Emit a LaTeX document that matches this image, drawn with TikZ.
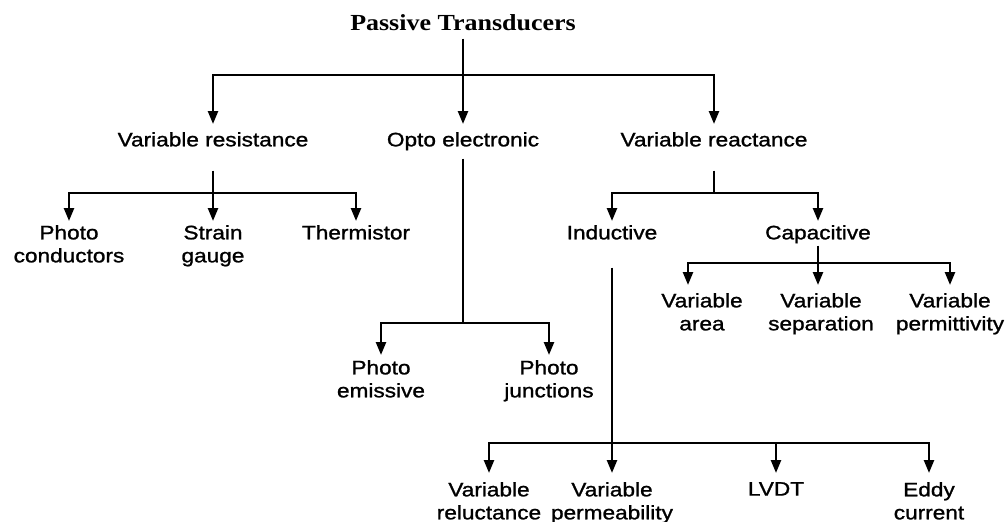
\documentclass[tikz,border=0pt]{standalone}
\usepackage{fontspec}
\setmainfont{Liberation Sans}[FakeStretch=1.16,FakeBold=1.2]
\newfontfamily\headfont{Liberation Serif}[FakeStretch=1.13]
\usetikzlibrary{arrows.meta}
\begin{document}
\begin{tikzpicture}[x=1pt,y=-1pt,
  wire/.style={line width=2.4pt},
  arr/.style={wire,-{Triangle[length=13pt,width=10pt]}},
  lbl/.style={inner sep=0pt,anchor=north,align=center,
    font=\fontsize{19.5}{23}\selectfont},
  head/.style={inner sep=0pt,anchor=north,
    font=\headfont\bfseries\fontsize{23}{26}\selectfont}]
\useasboundingbox (0,0) rectangle (1007,522);

% root and first level
\node[head] (root) at (463,14) {Passive Transducers};
\node[lbl] (vres) at (213,132) {Variable resistance};
\node[lbl] (opto) at (463,132) {Opto electronic};
\node[lbl] (vrea) at (714,132) {Variable reactance};

% second level
\node[lbl] (pc) at (69,225) {Photo\\conductors};
\node[lbl] (sg) at (213,225) {Strain\\gauge};
\node[lbl] (th) at (356,225) {Thermistor};
\node[lbl] (ind) at (612,225) {Inductive};
\node[lbl] (cap) at (818,225) {Capacitive};

% capacitive types
\node[lbl] (va) at (702,293) {Variable\\area};
\node[lbl] (vs) at (821,293) {Variable\\separation};
\node[lbl] (vp) at (950,293) {Variable\\permittivity};

% opto electronic types
\node[lbl] (pe) at (381,360) {Photo\\emissive};
\node[lbl] (pj) at (549,360) {Photo\\junctions};

% inductive types
\node[lbl] (vrl) at (489,482) {Variable\\reluctance};
\node[lbl] (vpm) at (612,482) {Variable\\permeability};
\node[lbl] (lvdt) at (776,482) {LVDT};
\node[lbl] (eddy) at (929,482) {Eddy\\current};

% bus junctions
\coordinate (j0) at (463,75);
\coordinate (j1) at (213,193);
\coordinate (j2) at (714,193);
\coordinate (j3) at (463,323);
\coordinate (j4) at (818,263);
\coordinate (j5) at (612,443);

% root branches
\draw[arr,shorten >=8pt] ([yshift=-8pt]root.south) -- (opto);
\draw[arr,shorten >=8pt] (j0) -| (vres);
\draw[arr,shorten >=8pt] (j0) -| (vrea);

% variable resistance branches
\draw[wire] ([yshift=-24pt]vres.south) -- (j1);
\draw[arr,shorten >=4pt] (j1) -| (pc);
\draw[arr,shorten >=4pt] (j1) -- (sg);
\draw[arr,shorten >=4pt] (j1) -| (th);

% opto electronic branches
\draw[wire] ([yshift=-8pt]opto.south) -- (j3);
\draw[arr,shorten >=5pt] (j3) -| (pe);
\draw[arr,shorten >=5pt] (j3) -| (pj);

% variable reactance branches
\draw[wire] ([yshift=-24pt]vrea.south) -- (j2);
\draw[arr,shorten >=4pt] (j2) -| (ind);
\draw[arr,shorten >=4pt] (j2) -| (cap);

% capacitive branches
\draw[wire] ([yshift=-2pt]cap.south) -- (j4);
\draw[arr,shorten >=8pt] (j4) -| ([xshift=-14pt]va.north);
\draw[arr,shorten >=8pt] (j4) -- (j4 |- vs.north);
\draw[arr,shorten >=8pt] (j4) -| (vp);

% inductive branches
\draw[arr,shorten >=9pt] ([yshift=-28pt]ind.south) -- (vpm);
\draw[arr,shorten >=9pt] (j5) -| (vrl);
\draw[arr,shorten >=9pt] (lvdt |- j5) -- (lvdt);
\draw[arr,shorten >=9pt] (j5) -| (eddy);
\end{tikzpicture}
\end{document}
